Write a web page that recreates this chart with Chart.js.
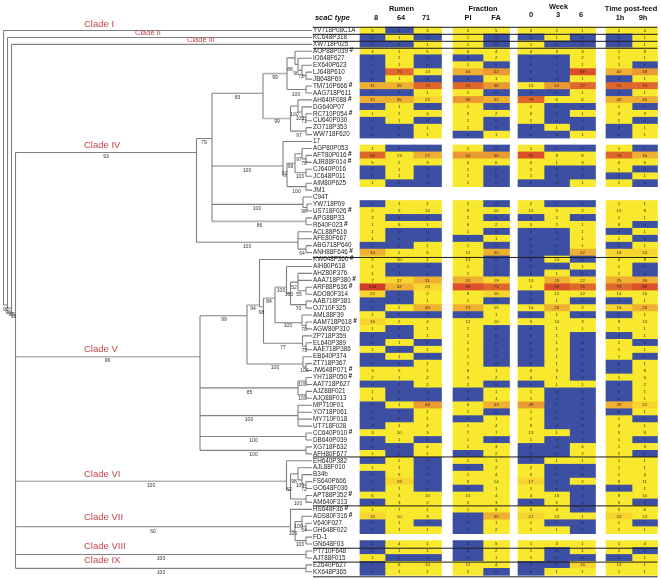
<!DOCTYPE html>
<html>
<head>
<meta charset="utf-8">
<title>scaC types</title>
<script src="https://cdn.jsdelivr.net/npm/chart.js@4/dist/chart.umd.min.js"></script>
<style>
  html, body { margin: 0; padding: 0; background: #fff; }
  canvas { display: block; }
</style>
</head>
<body>
<canvas id="treeHeat" width="661" height="580"></canvas>
<script>
// leaf names, top to bottom
const isolates = ['YV718P08C1A','KC648P318','XW718P025','AOP88P039','IO648F627','EX640P623','LJ648P610','JB648F69','TM710P666','AAG718P611',
  'AH640F088','DG640P07','RC710P054','CU640P030','ZO718P353','WW718F620','17','AGP80P053','AFT80P016','AJR88F014',
  'CJ640P016','JC648P011','AIM80P625','JM1','C94T','YW718P09','US718F026','APG88P33','R640F023','ACL88P616',
  'AFE80F667','ABG718P640','ANH88F646','KW648P360','AIH80P618','AHZ80P376','AAA718P380','ARF88P636','ADO80F314','AAB718P381',
  'OJ710F325','AML88F39','AAM718P618','AGW80P310','ZP718P359','EL640P389','AAE718P386','EB640P374','ZT718P367','JW648P071',
  'YH718P050','AAT718P627','AJZ88F021','AJQ88F013','MP710F01','YO718P061','MY710F018','UT718F028','CC640P010','DB640P039',
  'XG718F632','AFH80F677','EH640P382','AJL88F010','B34b','FS640P666','GO648F036','APT88P352','AM640F313','HS648F36',
  'ADS80F316','V640F027','GH648F022','FD-1','GN648F03','PT710F648','AJT88F015','EZ640P627','KX648P365'];
const flagged = ['AOP88P039','TM710P666','AH640F088','RC710P054','AFT80P016','AJR88F014','US718F026','R640F023','ANH88F646','KW648P360',
  'AAA718P380','ARF88P636','AAM718P618','JW648P071','YH718P050','CC640P010','APT88P352','HS648F36','ADS80F316'];

// series, one value per leaf (null = not measured)
const rumen8 = [5,0,0,4,0,0,0,0,31,0, 32,0,1,0,0,0,null,1,68,5, 0,0,1,null,null,0,2,2,1,1, 1,0,34,2,1,1,7,136,22,0, 0,1,16,1,0,0,1,0,0,3, 2,0,1,1,0,0,0,0,3,0, 0,1,0,1,0,0,0,6,0,1, 16,0,0,null,0,0,1,0,0];
const rumen64 = [0,1,0,1,2,1,75,1,35,0, 35,1,2,1,0,0,null,0,13,2, 1,1,0,null,null,1,5,0,6,0, 0,0,2,10,0,0,22,34,0,0, 2,0,2,0,0,1,0,1,0,5, 1,0,0,0,1,0,0,1,10,1, 0,0,2,1,5,19,1,3,3,7, 10,1,1,null,4,1,0,6,1];
const rumen71 = [3,0,1,5,0,0,13,0,73,1, 23,0,4,0,1,1,null,0,27,3, 0,0,0,null,null,1,12,0,1,0, 0,1,6,1,0,0,31,23,2,1, 40,0,4,1,1,0,1,0,1,1, 2,2,0,0,48,1,1,4,3,0, 4,1,0,0,0,0,0,10,2,1, 9,0,1,null,1,1,0,10,1];
const fractionPl = [3,1,1,6,0,1,34,0,81,1, 58,1,5,1,1,0,null,1,52,4, 1,1,1,null,null,2,9,2,6,1, 0,1,12,13,1,1,41,90,8,1, 27,0,12,2,1,1,2,1,1,8, 3,2,0,0,6,1,0,1,7,1, 1,0,1,0,1,5,0,15,2,1, 0,0,0,null,0,0,0,12,2];
const fractionFA = [5,0,0,4,2,0,52,1,58,0, 32,0,2,0,0,1,null,0,56,6, 0,0,0,null,null,0,10,0,2,0, 1,0,30,0,0,0,19,73,16,0, 15,1,10,0,0,0,0,0,0,1, 2,0,1,1,43,0,1,4,7,0, 3,2,1,2,4,14,1,4,3,8, 35,1,2,null,5,2,1,4,0];
const week0 = [5,0,1,4,0,0,0,0,15,0, 78,1,6,1,0,0,null,1,96,6, 1,1,0,null,null,2,12,0,5,0, 0,0,0,0,0,0,13,1,0,0, 14,0,5,0,0,0,0,0,0,6, 4,0,1,1,49,1,1,5,13,1, 0,0,0,2,5,17,1,4,0,5, 21,1,1,null,1,1,1,0,0];
const week3 = [2,1,0,3,0,0,0,0,52,0, 6,0,0,0,1,0,null,0,9,1, 0,0,0,null,null,0,5,2,2,0, 0,0,0,13,0,1,25,86,12,1, 26,1,14,1,1,1,2,1,1,3, 1,1,0,0,0,0,0,0,1,0, 0,0,1,0,0,0,0,15,5,4, 13,0,1,null,3,0,0,0,1];
const week6 = [1,0,0,3,2,1,88,1,72,1, 6,0,1,0,0,1,null,0,8,3, 0,0,1,null,null,0,2,0,1,1, 1,1,42,0,1,0,22,76,12,0, 2,0,3,1,0,0,0,0,0,0, 0,1,0,0,0,0,0,0,0,0, 4,2,1,0,0,2,0,0,0,0, 1,0,0,null,1,1,0,16,1];
const feed1h = [4,0,0,1,1,1,40,0,65,0, 40,1,4,1,0,0,null,1,76,6, 1,0,1,null,null,1,10,1,8,0, 1,0,18,4,1,1,25,75,14,0, 16,0,9,1,0,1,1,1,0,0, 1,0,0,0,28,0,1,4,5,1, 1,2,1,1,1,8,0,9,5,3, 22,1,1,null,1,2,0,15,1];
const feed9h = [4,1,1,9,1,0,48,1,74,1, 40,0,3,0,1,1,null,0,34,6, 0,1,0,null,null,1,9,1,0,1, 0,1,24,9,0,0,35,88,10,1, 26,1,13,1,1,0,1,0,1,9, 4,2,1,1,21,1,0,1,9,0, 3,0,1,1,4,11,1,10,0,6, 13,0,1,null,4,0,1,1,1];

const seriesList = [rumen8, rumen64, rumen71, fractionPl, fractionFA, week0, week3, week6, feed1h, feed9h];
const seriesNames = ['8','64','71','Pl','FA','0','3','6','1h','9h'];
const groupNames = ['Rumen','Fraction','Week','Time post-feed'];
const cladeNames = ['Clade I','Clade II','Clade III','Clade IV','Clade V','Clade VI','Clade VII','Clade VIII','Clade IX'];
const bootValues = [99,88,96,72,100,83,99,100,100,71,97,79,93,100,97,78,99,92,100,100,100,98,86,100,64,
  94,98,84,100,100,52,55,70,100,70,77,75,96,99,100,100,85,100,100,100,100,100,
  62,100,98,100,72,100,60,100,54,100,100,100,100,96,96,98,98];

// layout only from here on
const colEdges = [[360,385],[385,413.3],[413.3,441.5],[453,483],[483,509.5],[518,544],[544,569.5],[569.5,595.5],[606,632],[632,657.5]];
const headerPos = [[376,17.5],[401,17.5],[426,17.5],[468,17.5],[496,17.5],[531,15],[558,15],[581,15],[620,17.5],[643,17.5]];
const groupPos = [[401.5,9],[483,8.5],[558.5,6.5],[631,8.5]];
const cladePos = [[84,24,9.5],[135,33,7.5],[187,40,7.5],[84,145,9.5],[84,349,9.5],[84,474,9.5],[84,517,9.5],[84,546,9.5],[84,560.5,9.5]];
const bootPos = [[275,77.5],[290,70],[296,74],[301,77],[296,95],[237.5,98],[277,122],[294.5,115],[300,118.5],[304,122],[299,136],[204,142.5],[106,157],
  [247,171],[299,160],[304,164],[290.5,167],[284.5,174],[300,177],[296.5,191.5],[257,209],[304,212],[259.5,226],[247,247],[302,254],
  [253,309],[261.5,313],[269,302],[281,291],[289,295],[294,288],[299,295],[298.5,309],[288,326],[304,330],[283,348],[304.5,351],[107.5,361],[224,320],[275,368],[304.5,371],
  [249.5,392.5],[302.5,385],[302.5,399],[249,420],[253.5,441],[253.5,454.7],
  [289,489.7],[151,486],[294,482],[300,486],[304,489.7],[298,503.7],[153,531.5],[298.5,527],[304,531],[293,534],[300,544.5],[161,559],[161,572.3],
  [5.7,309.5],[8.3,312.5],[11,314.5],[13.5,316.7]];
const sepRows = [-0.46,0.55,1.56,2.56,32.7,61.45,68.5,74.6,76.6,78.72];
const leafEnd = 312;
const ROW_H = 6.94, ROW0 = 30.5;
const rowOf = p => (p - ROW0) / ROW_H;

// tree: N(branch position, children, options); a child number is a leaf row
function N(x, kids, opts) { return Object.assign({ x, kids }, opts); }

const treeRoot = N(3.5, [0, N(7.5, [1, N(11.5, [2, N(15.5, [
  // clade IV
  N(196.5, [
    N(212, [
      N(263, [
        N(287, [N(295, [3, N(298, [4, N(302, [5, N(306, [6, 7])])])]), N(306, [8, 9])], { light: true }),
        N(290.5, [N(298, [10, N(302, [11, N(306, [12, 13])])]), N(306, [14, 15])], { light: true })
      ], { y: rowOf(93.3) }),
      N(283, [16, N(287, [N(295, [N(302, [17, N(306, [18, 19])]), N(306, [20, 21])]), N(306, [22, 23])], { y: rowOf(176) })], { y: rowOf(166) }),
      N(303, [24, N(307, [25, 26])], { y: rowOf(204.4) }),
      N(306, [27, 28], { light: true })
    ], { y: rowOf(138.5) }),
    N(298, [29, 30, N(306, [31, 32])], { y: rowOf(242.3) })
  ], { y: rowOf(152.5) }),
  // clade V
  N(200, [
    N(247, [
      N(259.5, [33,
        N(263.5, [
          N(275, [
            N(286.5, [34, N(290.5, [N(298, [35, 36, N(306, [37, 38])]), N(306, [39, 40])])], { y: rowOf(287.3), light: true }),
            N(302, [41, N(306, [42, 43])], { y: rowOf(322.7) })
          ], { y: rowOf(298.3), light: true }),
          N(302.5, [44, N(306, [45, 46])], { y: rowOf(343.3) })
        ], { y: rowOf(306.7) })
      ], { y: rowOf(305), light: true }),
      N(303, [47, N(306, [48, 49])], { y: rowOf(364) })
    ], { y: rowOf(315.7) }),
    N(298, [N(306, [50, 51]), N(306, [52, 53])]),
    N(298, [54, 55, 56, 57]),
    N(306, [58, 59]),
    N(306, [60, 61])
  ], { y: rowOf(356.7), light: true }),
  // clade VI
  N(286.5, [62, N(290.5, [N(298, [63, N(302, [64, N(306, [65, 66])])]), N(306, [67, 68])], { y: rowOf(490) })], { y: rowOf(481.3), light: true }),
  // clade VII
  N(290.5, [69, N(295, [N(302, [70, N(306, [71, 72])]), N(306, [73, 74])])], { y: rowOf(526.7) }),
  // clades VIII, IX
  N(306, [75, 76]),
  N(306, [77, 78])
], { y: rowOf(313) })], { y: rowOf(308) })], { y: rowOf(305) })]);

// walk the tree into line pieces, NaN breaks the stroke
const darkPts = [], lightPts = [];
const gap = { x: NaN, y: NaN };
function stroke(list, x0, y0, x1, y1) { list.push({ x: x0, y: y0 }, { x: x1, y: y1 }, gap); }
function walk(node) {
  if (typeof node === 'number') return { x: leafEnd, y: node, light: false };
  const kids = node.kids.map(walk);
  const ys = kids.map(k => k.y);
  const y = node.y !== undefined ? node.y : (ys[0] + ys[ys.length - 1]) / 2;
  stroke(darkPts, node.x, Math.min(...ys, y), node.x, Math.max(...ys, y));
  kids.forEach(k => stroke(k.light ? lightPts : darkPts, node.x, k.y, k.x, k.y));
  return { x: node.x, y, light: !!node.light };
}
walk(treeRoot);

const sepPts = [];
sepRows.forEach(r => stroke(sepPts, 313, r, 657.5, r));

function cellColor(v) {
  if (v === 0) return '#3c4fa3';
  if (v < 16) return '#f8e82e';
  if (v < 25) return '#f8d52e';
  if (v < 45) return '#efb032';
  if (v < 60) return '#ea9a30';
  if (v < 85) return '#e1682c';
  if (v < 100) return '#dd4f2a';
  return '#d43a28';
}

const barSets = seriesList.map((vals, c) => ({
  type: 'bar',
  label: seriesNames[c],
  indexAxis: 'y',
  grouped: false,
  barThickness: 7,
  order: 3,
  borderWidth: 0,
  data: vals.map((v, r) => ({ x: colEdges[c], y: r, v })).filter(d => d.v !== null),
  backgroundColor: ctx => cellColor(ctx.raw.v)
}));

function lineSet(label, pts, color, width, order) {
  return { type: 'scatter', label, data: pts, showLine: true, spanGaps: false, pointRadius: 0, borderColor: color, borderWidth: width, order };
}

// all text goes on top of the marks
const textPlugin = {
  id: 'textPlugin',
  afterDatasetsDraw(chart) {
    const { ctx, scales: { x, y } } = chart;
    ctx.save();
    ctx.textBaseline = 'middle';

    // values inside the cells
    ctx.textAlign = 'center';
    ctx.font = '4.4px "Liberation Sans"';
    seriesList.forEach((vals, c) => {
      const cx = x.getPixelForValue((colEdges[c][0] + colEdges[c][1]) / 2);
      vals.forEach((v, r) => {
        if (v === null) return;
        ctx.fillStyle = v === 0 ? '#20264f' : '#3a2e10';
        ctx.fillText(v, cx, y.getPixelForValue(r));
      });
    });

    // leaf names and # marks
    ctx.textAlign = 'left';
    isolates.forEach((name, r) => {
      const py = y.getPixelForValue(r);
      ctx.font = '6.3px "Liberation Sans"';
      ctx.fillStyle = '#1f1f1f';
      ctx.fillText(name, 313, py);
      if (flagged.includes(name)) {
        const w = ctx.measureText(name).width;
        ctx.font = 'bold 6.5px "Liberation Sans"';
        ctx.fillStyle = '#111';
        ctx.fillText('#', 313 + w + 1.5, py - 1);
      }
    });

    // headers
    ctx.fillStyle = '#111';
    ctx.font = 'italic bold 7.4px "Liberation Sans"';
    ctx.fillText('scaC type', 315, 17.5);
    ctx.textAlign = 'center';
    ctx.font = 'bold 7.4px "Liberation Sans"';
    seriesNames.forEach((s, i) => ctx.fillText(s, headerPos[i][0], headerPos[i][1]));
    groupNames.forEach((s, i) => ctx.fillText(s, groupPos[i][0], groupPos[i][1]));

    // bootstrap support
    ctx.font = '5px "Liberation Sans"';
    ctx.fillStyle = '#333';
    bootValues.forEach((v, i) => ctx.fillText(v, bootPos[i][0], bootPos[i][1]));

    // clade names
    ctx.textAlign = 'left';
    ctx.fillStyle = '#c2454b';
    cladeNames.forEach((s, i) => {
      ctx.font = cladePos[i][2] + 'px "Liberation Sans"';
      ctx.fillText(s, cladePos[i][0], cladePos[i][1]);
    });
    ctx.restore();
  }
};

new Chart(document.getElementById('treeHeat').getContext('2d'), {
  type: 'bar',
  data: {
    datasets: [
      lineSet('separators', sepPts, '#1c1c1c', 1, 0),
      lineSet('branches', darkPts, '#808080', 1.1, 1),
      lineSet('branches light', lightPts, '#b4b4b4', 1.6, 2)
    ].concat(barSets)
  },
  options: {
    responsive: false,
    animation: false,
    events: [],
    layout: { padding: 0 },
    plugins: { legend: { display: false }, tooltip: { enabled: false } },
    scales: {
      x: { type: 'linear', display: false, min: 0, max: 661, offset: false },
      y: { type: 'linear', display: false, reverse: true, min: rowOf(0), max: rowOf(580), offset: false }
    }
  },
  plugins: [textPlugin]
});
</script>
</body>
</html>
